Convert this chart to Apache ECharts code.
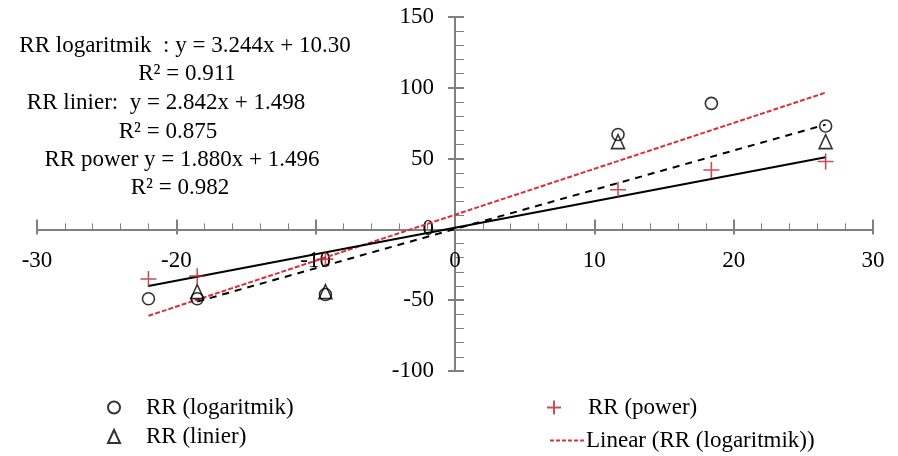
<!DOCTYPE html>
<html>
<head>
<meta charset="utf-8">
<script src="https://cdn.jsdelivr.net/npm/echarts@6/dist/echarts.min.js"></script>
<style>
  html, body { margin: 0; padding: 0; background: #fff; }
  #chart { width: 898px; height: 456px; }
</style>
</head>
<body>
<div id="chart"></div>
<script>
  // data points
  const logPoints = [[-22.0, -49], [-18.5, -49], [-9.3, -46], [11.7, 67], [18.4, 89], [26.6, 73]];
  const linierPoints = [[-18.5, -44], [-9.3, -44], [11.7, 62], [26.6, 62]];
  const powerPoints = [[-22.0, -35], [-18.5, -33], [-9.3, -21], [11.7, 28], [18.4, 42], [26.6, 48]];

  // trend line ends
  const logTrend = [[-22.0, -61], [26.6, 96.6]];
  const linierTrend = [[-18.5, -51], [26.6, 74]];
  const powerTrend = [[-22.0, -40], [26.6, 51]];

  const xTicks = [-30, 30, 10];
  const yTicks = [-100, 150, 50];

  const equations = [
      'RR logaritmik  : y = 3.244x + 10.30',
      'R² = 0.911',
      'RR linier:  y = 2.842x + 1.498',
      'R² = 0.875',
      'RR power y = 1.880x + 1.496',
      'R² = 0.982'
  ];

  const font = 'Liberation Serif';
  const axisGray = '#808080';
  const plusRed = '#b8232b';
  const lineRed = '#d8303a';

  // plot box; axes are moved onto the zero lines with offset
  const gridBox = { left: 37, right: 25, top: 17, bottom: 85 };
  const plotW = 898 - gridBox.left - gridBox.right;
  const plotH = 456 - gridBox.top - gridBox.bottom;
  const xAxisOffset = -plotH * (0 - yTicks[0]) / (yTicks[1] - yTicks[0]);
  const yAxisOffset = -plotW * (0 - xTicks[0]) / (xTicks[1] - xTicks[0]);

  const eqX = [185, 187, 166, 168, 182, 180];
  const eqY = [46, 74, 103, 132, 160, 188];

  const chart = echarts.init(document.getElementById('chart'));

  chart.setOption({
      animation: false,
      grid: Object.assign({ containLabel: false, outerBoundsMode: 'none' }, gridBox),
      xAxis: [{
          type: 'value',
          min: xTicks[0],
          max: xTicks[1],
          interval: xTicks[2],
          position: 'bottom',
          offset: xAxisOffset,
          axisLine: { onZero: false, lineStyle: { color: axisGray, width: 2 } },
          axisTick: { show: true, inside: true, length: 10, lineStyle: { color: axisGray, width: 2 } },
          minorTick: { show: true, splitNumber: 5, length: 6, lineStyle: { color: axisGray, width: 1 } },
          splitLine: { show: false },
          axisLabel: { margin: 20, color: '#000', fontFamily: font, fontSize: 23 }
      }, {
          type: 'value',
          min: xTicks[0],
          max: xTicks[1],
          interval: xTicks[2],
          position: 'bottom',
          offset: xAxisOffset,
          axisLine: { show: false, onZero: false },
          axisTick: { show: true, inside: false, length: 5, lineStyle: { color: axisGray, width: 2 } },
          splitLine: { show: false },
          axisLabel: { show: false }
      }],
      yAxis: [{
          type: 'value',
          min: yTicks[0],
          max: yTicks[1],
          interval: yTicks[2],
          position: 'left',
          offset: yAxisOffset,
          axisLine: { show: true, onZero: false, lineStyle: { color: axisGray, width: 2 } },
          axisTick: { show: true, inside: true, length: 9, lineStyle: { color: axisGray, width: 2 } },
          minorTick: { show: true, splitNumber: 5, length: 9, lineStyle: { color: axisGray, width: 1 } },
          splitLine: { show: false },
          axisLabel: { margin: 21, color: '#000', fontFamily: font, fontSize: 23 }
      }, {
          type: 'value',
          min: yTicks[0],
          max: yTicks[1],
          interval: yTicks[2],
          position: 'left',
          offset: yAxisOffset,
          axisLine: { show: false, onZero: false },
          axisTick: { show: true, inside: false, length: 7, lineStyle: { color: axisGray, width: 2 } },
          splitLine: { show: false },
          axisLabel: { show: false }
      }],
      legend: [{
          orient: 'vertical',
          left: 102,
          top: 391,
          itemWidth: 12,
          itemHeight: 13,
          itemGap: 6,
          data: ['RR (logaritmik)', 'RR (linier)'],
          textStyle: { fontFamily: font, fontSize: 23, color: '#000', padding: [0, 0, 0, 21] }
      }, {
          left: 541,
          top: 391,
          itemWidth: 14,
          itemHeight: 14,
          data: ['RR (power)'],
          textStyle: { fontFamily: font, fontSize: 23, color: '#000', padding: [0, 0, 0, 22] }
      }, {
          left: 545,
          top: 424,
          itemWidth: 34,
          itemHeight: 2,
          itemGap: 2,
          data: [{
              name: 'Linear (RR (logaritmik))',
              icon: 'path://M0,0h4v2h-4z M6,0h4v2h-4z M12,0h4v2h-4z M18,0h4v2h-4z M24,0h4v2h-4z M30,0h4v2h-4z'
          }],
          textStyle: { fontFamily: font, fontSize: 23, color: '#000', padding: [0, 0, 0, -3] }
      }],
      graphic: equations.map((t, i) => ({
          type: 'text',
          x: eqX[i],
          y: eqY[i],
          style: {
              text: t,
              fontFamily: font,
              fontSize: 23,
              fill: '#000',
              textAlign: 'center',
              textVerticalAlign: 'middle'
          }
      })),
      series: [{
          name: 'Linear (RR (logaritmik))',
          type: 'line',
          data: logTrend,
          symbol: 'none',
          z: 1,
          lineStyle: { color: lineRed, width: 2, type: [5, 2] },
          itemStyle: { color: lineRed }
      }, {
          name: 'Linear (RR (linier))',
          type: 'line',
          data: linierTrend,
          symbol: 'none',
          z: 1,
          lineStyle: { color: '#000', width: 2, type: [7, 6] }
      }, {
          name: 'Linear (RR (power))',
          type: 'line',
          data: powerTrend,
          symbol: 'none',
          z: 1,
          lineStyle: { color: '#000', width: 2 }
      }, {
          name: 'RR (logaritmik)',
          type: 'scatter',
          data: logPoints,
          symbol: 'circle',
          symbolSize: 12,
          itemStyle: { color: 'transparent', borderColor: '#000', borderWidth: 1.6 }
      }, {
          name: 'RR (linier)',
          type: 'scatter',
          data: linierPoints,
          symbol: 'triangle',
          symbolSize: [13, 14],
          itemStyle: { color: 'transparent', borderColor: '#000', borderWidth: 1.6 }
      }, {
          name: 'RR (power)',
          type: 'scatter',
          data: powerPoints,
          symbol: 'path://M5,0L5,10M0,5L10,5',
          symbolSize: 16,
          itemStyle: { color: 'transparent', borderColor: plusRed, borderWidth: 1.6 }
      }]
  });
</script>
</body>
</html>
